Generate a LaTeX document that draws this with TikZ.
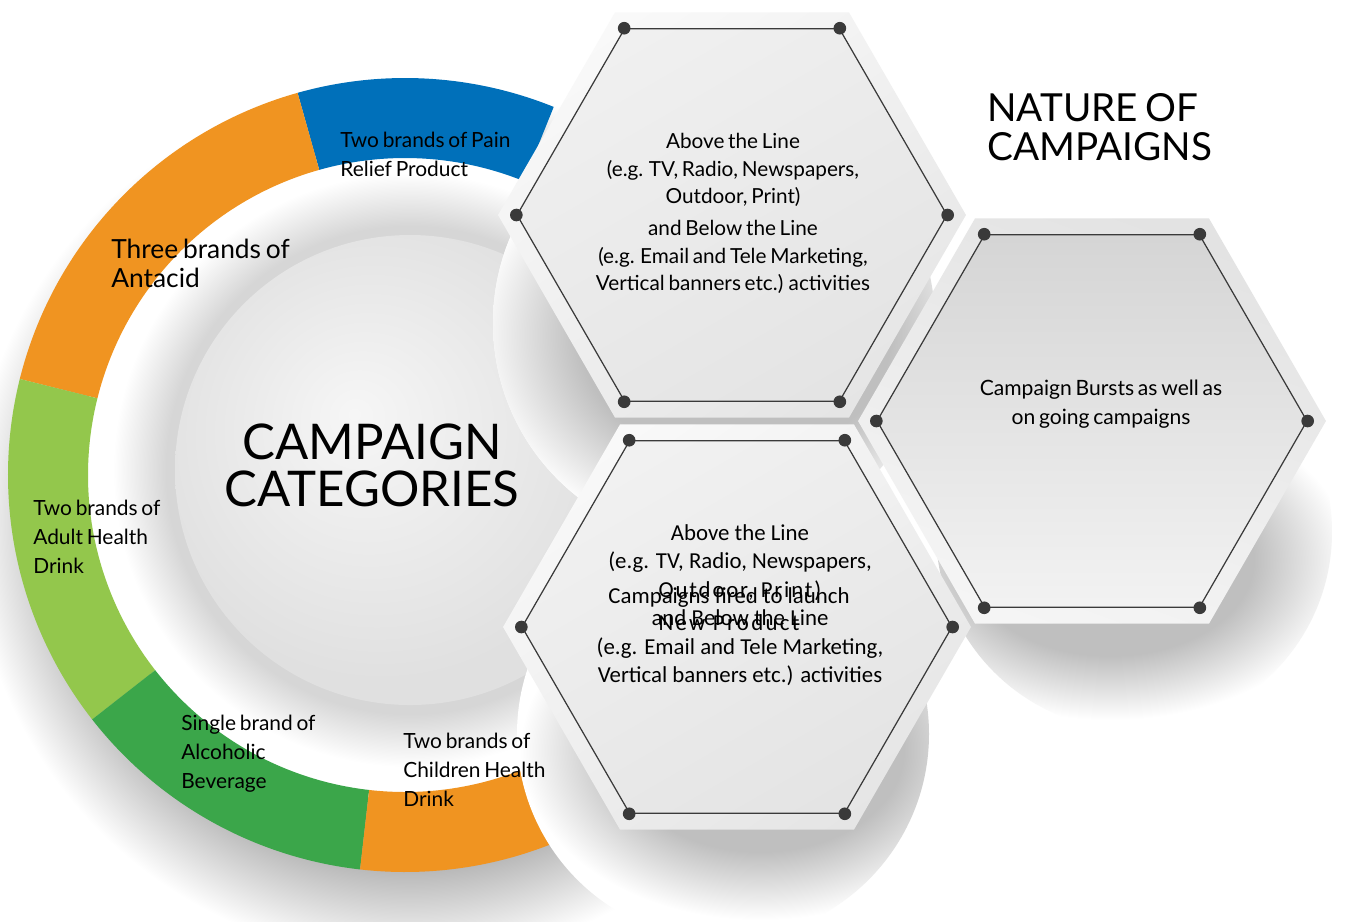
\documentclass[tikz,border=0pt]{standalone}
\usepackage{fontspec}
\setmainfont{Lato}[WordSpace=0.7]
\newfontfamily\carlito{Carlito}
\usepackage{tikz}
\usetikzlibrary{shapes.geometric}

\definecolor{ringorange}{RGB}{240,148,33}
\definecolor{ringblue}{RGB}{0,112,186}
\definecolor{ringlime}{RGB}{147,199,76}
\definecolor{ringgreen}{RGB}{59,166,74}
\definecolor{linkcolor}{RGB}{58,58,58}

% soft shadows, rim and centre disc (25bp = edge of the shaded path)
\pgfdeclareradialshading{ringshadow}{\pgfpointorigin}{color(0bp)=(gray!60); color(19.5bp)=(gray!60); color(25bp)=(white); color(50bp)=(white)}
\pgfdeclareradialshading{rimshade}{\pgfpointorigin}{color(0bp)=(gray!32); color(18.5bp)=(gray!32); color(22.5bp)=(white); color(50bp)=(white)}
\pgfdeclareradialshading{discshade}{\pgfpoint{-6bp}{6bp}}{color(0bp)=(gray!7); color(25bp)=(gray!24); color(50bp)=(gray!24)}
\pgfdeclareradialshading{plateshadow}{\pgfpointorigin}{color(0bp)=(gray!50); color(15bp)=(gray!50); color(25bp)=(white); color(50bp)=(white)}

\tikzset{
  plate/.style={regular polygon, regular polygon sides=6, minimum size=9.36cm,
                inner sep=0pt, top color=gray!5, bottom color=gray!20, shading angle=35},
  hexcell/.style={regular polygon, regular polygon sides=6, minimum size=8.6cm,
                  inner sep=0pt, draw=linkcolor, line width=0.7pt},
  vertexdot/.style={fill=linkcolor},
  ringlabel/.style={anchor=north west, inner sep=0pt, align=left,
                    font=\fontsize{11.9}{16.4}\selectfont},
  hextext/.style={anchor=north, inner sep=0pt, align=center},
}

\begin{document}
\begin{tikzpicture}[x=0.02cm, y=0.02cm]
  \useasboundingbox (0,0) rectangle (1345,-921);
  \fill[white] (0,0) rectangle (1345,-921);

  \coordinate (ringc) at (405,-475);
  \coordinate (discc) at (410,-470);
  \coordinate (discT) at (714,-323);
  \coordinate (discR) at (1134,-532);
  \coordinate (discB) at (723,-734);

  % shadow under the ring and the rim round the centre disc
  \shade[shading=ringshadow] (410,-520) circle (440);
  \shade[shading=rimshade] (discc) circle (330);

  % ring segments
  \foreach \from/\to/\col in {68/105.7/ringblue, 105.7/166/ringorange,
      166/218/ringlime, 218/263.5/ringgreen, 263.5/300/ringorange}
    \fill[\col] ([shift={(\from:397)}]ringc) arc[start angle=\from, end angle=\to, radius=397]
      -- ([shift={(\to:317)}]ringc) arc[start angle=\to, end angle=\from, radius=317] -- cycle;

  % centre disc
  \shade[shading=discshade] (discc) circle (235);

  % white discs behind the hexagons
  \fill[white] (discT) circle (221);
  \fill[white] (discR) circle (198);
  \fill[white] (discB) circle (206);

  \begin{scope}
    \clip (discT) circle (221);
    \shade[shading=plateshadow] (735,-335) ellipse (260 and 210);
  \end{scope}
  \begin{scope}
    \clip (discB) circle (206);
    \shade[shading=plateshadow] (760,-750) ellipse (240 and 170);
  \end{scope}
  \begin{scope}
    \clip (discR) circle (198);
    \shade[shading=plateshadow] (1110,-560) ellipse (240 and 160);
  \end{scope}

  % hexagons
  \node[plate] (plateT) at (732,-215) {};
  \node[plate, top color=gray!22, bottom color=gray!8, shading angle=-20] (plateR) at (1092,-421) {};
  \node[plate] (plateB) at (737,-627) {};

  \node[hexcell, top color=gray!12, bottom color=gray!21, shading angle=30] (hexT) at (732,-215) {};
  \node[hexcell, top color=gray!33, bottom color=gray!10] (hexR) at (1092,-421) {};
  \node[hexcell, top color=gray!11, bottom color=gray!21, shading angle=30] (hexB) at (737,-627) {};

  \foreach \h in {hexT,hexR,hexB}
    \foreach \i in {1,...,6}
      \fill[vertexdot] (\h.corner \i) circle (3.6pt);

  % ring labels
  \node[ringlabel] (pain) at (340,-132) {Two brands of Pain\\Relief Product};
  \node[ringlabel, font=\fontsize{15}{16.4}\selectfont] (antacid) at (111,-239)
    {Three brands of\\Antacid};
  \node[ringlabel] (adult) at (33,-500) {Two brands of\\Adult Health\\Drink};
  \node[ringlabel] (alcohol) at (181,-715) {Single brand of\\Alcoholic\\Beverage};
  \node[ringlabel] (children) at (403,-733) {Two brands of\\Children Health\\Drink};

  % titles
  \node[inner sep=0pt, anchor=north, align=center,
        font=\fontsize{28}{27.2}\selectfont] (cattitle) at (372,-423)
    {CAMPAIGN\\CATEGORIES};
  \node[inner sep=0pt, anchor=north west, align=left,
        font=\fontsize{22}{22.1}\selectfont] (naturetitle) at (987,-93)
    {NATURE OF\\CAMPAIGNS};

  % hexagon texts
  \node[hextext, font=\fontsize{11.8}{15.6}\selectfont] (textT) at (733,-133)
    {Above the Line\\(e.g. TV, Radio, Newspapers,\\Outdoor, Print)\\[2.8pt]
     and Below the Line\\(e.g. Email and Tele Marketing,\\Vertical banners etc.) activities};
  \node[hextext, font=\fontsize{12}{16.4}\selectfont] (textR) at (1101,-380)
    {Campaign Bursts as well as\\on going campaigns};
  \node[hextext, font=\carlito\fontsize{13}{16.2}\selectfont] (textB) at (740,-524)
    {Above the Line\\(e.g. TV, Radio, Newspapers,\\
     {\addfontfeature{LetterSpace=8}Outdoor, Print)}\\and Below the Line\\
     (e.g. Email and Tele Marketing,\\Vertical banners etc.) activities};
  \node[hextext, font=\carlito\fontsize{13}{15.3}\selectfont] (launch) at (729,-587)
    {Campaigns fired to launch\\{\addfontfeature{LetterSpace=10}New Product}};
\end{tikzpicture}
\end{document}
